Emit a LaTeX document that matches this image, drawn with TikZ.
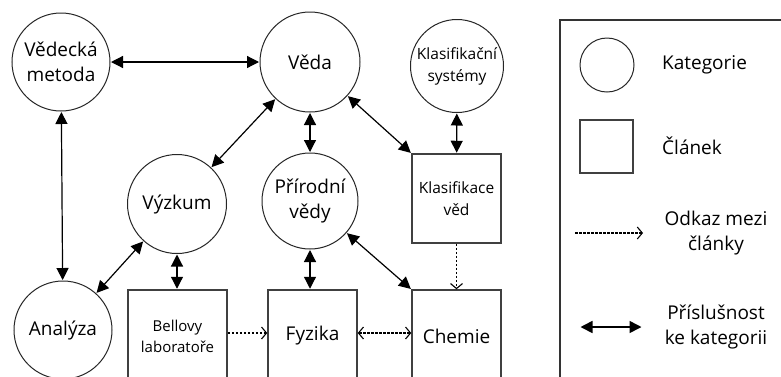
\documentclass[tikz,border=0pt]{standalone}
\usepackage{fontspec}
\setmainfont{Open Sans}
\usetikzlibrary{arrows.meta}
\tikzset{
  cat/.style={circle, draw=black!85, line width=1pt, inner sep=0pt, align=center,
              font=\fontsize{19}{25}\selectfont},
  art/.style={rectangle, draw=black!75, line width=1.5pt, inner sep=0pt, align=center,
              font=\fontsize{19}{25}\selectfont},
  small/.style={font=\fontsize{15.5}{22}\selectfont},
  member/.style={line width=1.2pt, {Triangle[length=12pt,width=12pt]}-{Triangle[length=12pt,width=12pt]}, shorten <=0.5pt, shorten >=0.5pt},
  link/.style={line width=1.1pt, dash pattern=on 2.5pt off 1.5pt, -{Straight Barb[length=5pt,width=12pt]}},
  linkboth/.style={line width=1.1pt, dash pattern=on 2.5pt off 1.5pt, {Straight Barb[length=5pt,width=12pt]}-{Straight Barb[length=5pt,width=12pt]}},
  legtext/.style={font=\fontsize{19}{25}\selectfont, inner sep=0pt, align=center}
}
\begin{document}
\begin{tikzpicture}[x=1pt,y=-1pt]
\useasboundingbox (0,0) rectangle (781,376);
\clip (0,0) rectangle (781,376);
\fill[white] (0,0) rectangle (781,376);

% categories
\node[cat, minimum size=98pt] (metoda) at (61,62) {Vědecká\\metoda};
\node[cat, minimum size=100pt] (veda) at (310,62) {Věda};
\node[cat, minimum size=93pt, small] (klsys) at (457,66) {Klasifikační\\systémy};
\node[cat, minimum size=99pt] (vyzkum) at (177,204) {Výzkum};
\node[cat, minimum size=96pt] (prirodni) at (310,201) {Přírodní\\vědy};
\node[cat, minimum size=98pt] (analyza) at (63,330) {Analýza};

% articles
\node[art, minimum width=89pt, minimum height=89pt, small] (klved) at (456.5,198.5) {Klasifikace\\věd};
\node[art, minimum width=99pt, minimum height=92pt, font=\fontsize{15}{21}\selectfont] (bell) at (177.5,336) {Bellovy\\laboratoře};
\node[art, minimum width=89pt, minimum height=92pt] (fyzika) at (312.5,336) {Fyzika};
\node[art, minimum width=89pt, minimum height=92pt] (chemie) at (456.5,336) {Chemie};

% membership connectors
\draw[member] (metoda) -- (veda);
\draw[member] (metoda) -- (analyza);
\draw[member] (veda) -- (vyzkum);
\draw[member] (veda) -- (prirodni);
\draw[member] (veda) -- (klved.north west);
\draw[member] (klsys) -- (klved);
\draw[member] (vyzkum) -- (analyza);
\draw[member] (vyzkum) -- (vyzkum |- bell.north);
\draw[member] (prirodni) -- (prirodni |- fyzika.north);
\draw[member] (prirodni) -- (chemie.north west);

% article links
\draw[link] (klved) -- (chemie);
\draw[link] (bell.east |- 0,333) -- (fyzika.west |- 0,333);
\draw[linkboth] (fyzika.east |- 0,333) -- (chemie.west |- 0,333);

% legend
\draw[black!80, line width=1.5pt] (560,400) -- (560,20) -- (800,20);
\node[circle, draw=black!85, line width=1pt, minimum size=54pt, inner sep=0pt] (lcat) at (607,65) {};
\node[rectangle, draw=black!75, line width=1.5pt, minimum size=53pt, inner sep=0pt] (lart) at (606.5,146.5) {};
\node[legtext, anchor=west] (tcat) at (662,65) {Kategorie};
\node[legtext, anchor=west] (tart) at (662,146) {Článek};
\coordinate (la1) at (575,233);
\coordinate (la2) at (643,233);
\draw[link] (la1) -- (la2);
\node[legtext] (tlink) at (716,233) {Odkaz mezi\\články};
\coordinate (lb1) at (580,327);
\coordinate (lb2) at (642,327);
\draw[member, line width=1.6pt] (lb1) -- (lb2);
\node[legtext] (tmem) at (716,327) {Příslušnost\\ke kategorii};
\end{tikzpicture}
\end{document}
